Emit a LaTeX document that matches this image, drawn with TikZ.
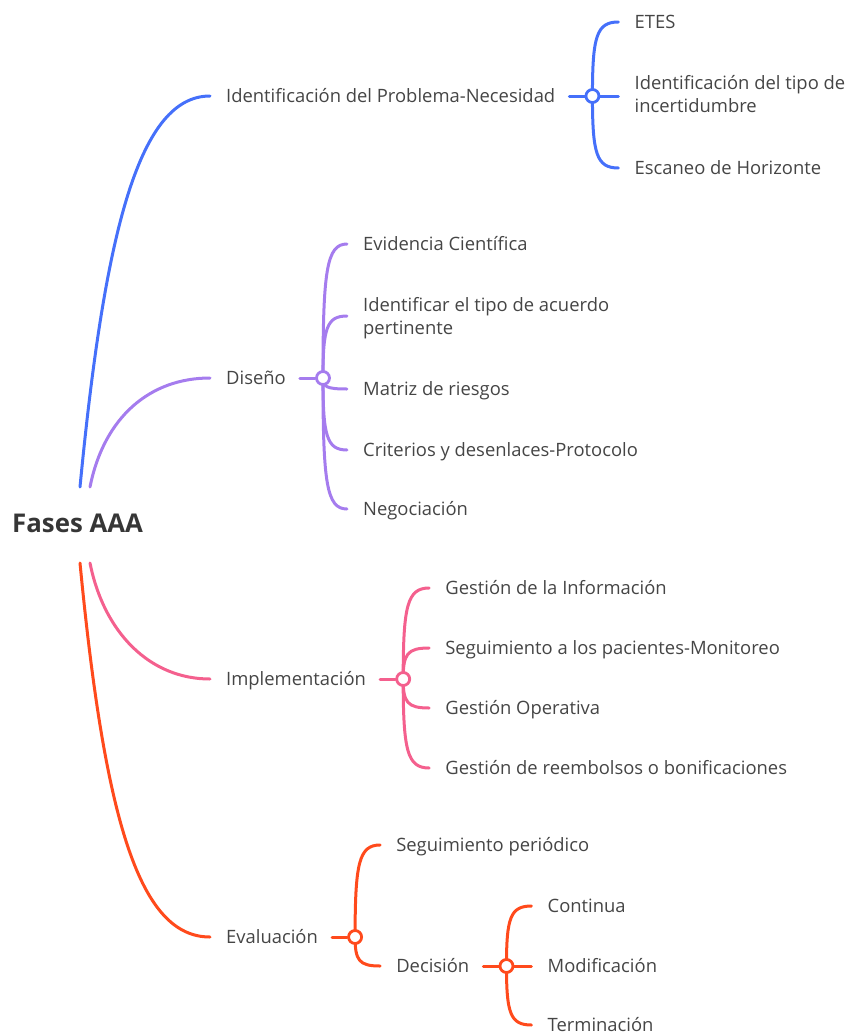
\documentclass[tikz,border=0pt]{standalone}
\usepackage{fontspec}
\setmainfont{Open Sans}
\usetikzlibrary{calc}
\definecolor{cblue}{HTML}{4570FA}
\definecolor{cpurple}{HTML}{A57CEE}
\definecolor{cpink}{HTML}{F4608E}
\definecolor{cred}{HTML}{FF4A1C}
\definecolor{txt}{HTML}{454545}
\definecolor{roottxt}{HTML}{363636}
\pgfdeclarelayer{bg}\pgfsetlayers{bg,main}
\newcommand\hubbranch[3]{\draw[br=#3] (#1.center) .. controls ($(#1.center)!0.8!(#1.center|-#2)$) and ($(#1.center|-#2)!0.15!(#2)$) .. (#2);}
\begin{document}
\begin{tikzpicture}[x=1pt,y=-1pt,
  lbl/.style={anchor=base west, inner sep=0pt, text=txt, font=\fontsize{18.4}{23.5}\selectfont, align=left},
  hub/.style={circle, draw=#1, fill=white, line width=2.8pt, minimum size=13pt, inner sep=0pt},
  br/.style={draw=#1, line width=3pt, line cap=round},
]
\useasboundingbox (0,0) rectangle (848,1033);
\node[anchor=base west, inner sep=0pt, text=roottxt, font=\bfseries\fontsize{25.8}{30}\selectfont] (root) at (12,532) {Fases AAA};
\coordinate (rb) at (80,487);
\coordinate (rp) at (90,487);
\coordinate (rk) at (90,563);
\coordinate (rr) at (80,563);

% level 1
\node[lbl] (p1) at (226,102.5) {Identificación del Problema-Necesidad};
\node[lbl] (p2) at (226,384.5) {Diseño};
\node[lbl] (p3) at (226,685.5) {Implementación};
\node[lbl] (p4) at (226,943.5) {Evaluación};
\coordinate (e1) at ($(p1.base west)+(-16,-6.5)$);
\coordinate (e2) at ($(p2.base west)+(-16,-6.5)$);
\coordinate (e3) at ($(p3.base west)+(-16,-6.5)$);
\coordinate (e4) at ($(p4.base west)+(-16,-6.5)$);

% hubs
\node[hub=cblue] (h1) at ($(p1.base east)+(37,-6.5)$) {};
\node[hub=cpurple] (h2) at ($(p2.base east)+(37,-6.5)$) {};
\node[hub=cpink] (h3) at ($(p3.base east)+(37,-6.5)$) {};
\node[hub=cred] (h4) at ($(p4.base east)+(37,-6.5)$) {};

% blue children
\node[lbl] (a1) at ($(h1)+(42,-67.5)$) {ETES};
\node[lbl] (a2) at ($(h1)+(42,16.5)$) {Identificación del tipo de\\incertidumbre};
\node[lbl] (a3) at ($(h1)+(42,78.5)$) {Escaneo de Horizonte};
% purple children
\node[lbl] (b1) at ($(h2)+(40,-127.5)$) {Evidencia Científica};
\node[lbl] (b2) at ($(h2)+(40,-43.5)$) {Identificar el tipo de acuerdo\\pertinente};
\node[lbl] (b3) at ($(h2)+(40,17.5)$) {Matriz de riesgos};
\node[lbl] (b4) at ($(h2)+(40,78.5)$) {Criterios y desenlaces-Protocolo};
\node[lbl] (b5) at ($(h2)+(40,137.5)$) {Negociación};
% pink children
\node[lbl] (c1) at ($(h3)+(42,-84.5)$) {Gestión de la Información};
\node[lbl] (c2) at ($(h3)+(42,-24.5)$) {Seguimiento a los pacientes-Monitoreo};
\node[lbl] (c3) at ($(h3)+(42,35.5)$) {Gestión Operativa};
\node[lbl] (c4) at ($(h3)+(42,95.5)$) {Gestión de reembolsos o bonificaciones};
% red children
\node[lbl] (d1) at ($(h4)+(41,-85.5)$) {Seguimiento periódico};
\node[lbl] (d2) at ($(h4)+(41,35.5)$) {Decisión};
\node[hub=cred] (h5) at ($(d2.base east)+(37,-6.5)$) {};
\node[lbl] (f1) at ($(h5)+(41,-53.5)$) {Continua};
\node[lbl] (f2) at ($(h5)+(41,6.5)$) {Modificación};
\node[lbl] (f3) at ($(h5)+(41,65.5)$) {Terminación};

\foreach \n in {a1,a3,b1,b3,b4,b5,c1,c2,c3,c4,d1,d2,f1,f2,f3}{
  \coordinate (t\n) at ($(\n.base west)+(-16,-6.5)$);
}
\coordinate (ta2) at ($(a2.base west)+(-16,-16.5)$);
\coordinate (tb2) at ($(b2.base west)+(-16,-18.5)$);

\begin{pgfonlayer}{bg}
\draw[br=cblue] (rb) .. controls +(25,-260) and +(-70,0) .. (e1);
\draw[br=cpurple] (rp) .. controls +(14,-70) and +(-60,0) .. (e2);
\draw[br=cpink] (rk) .. controls +(14,70) and +(-60,0) .. (e3);
\draw[br=cred] (rr) .. controls +(25,260) and +(-70,0) .. (e4);

\draw[br=cblue] ($(p1.base east)+(14,-6.5)$) -- (h1);
\draw[br=cpurple] ($(p2.base east)+(14,-6.5)$) -- (h2);
\draw[br=cpink] ($(p3.base east)+(14,-6.5)$) -- (h3);
\draw[br=cred] ($(p4.base east)+(14,-6.5)$) -- (h4);
\draw[br=cred] ($(d2.base east)+(14,-6.5)$) -- (h5);

\foreach \t in {ta1,ta2,ta3}{\hubbranch{h1}{\t}{cblue}}
\foreach \t in {tb1,tb2,tb3,tb4,tb5}{\hubbranch{h2}{\t}{cpurple}}
\foreach \t in {tc1,tc2,tc3,tc4}{\hubbranch{h3}{\t}{cpink}}
\foreach \t in {td1,td2}{\hubbranch{h4}{\t}{cred}}
\foreach \t in {tf1,tf2,tf3}{\hubbranch{h5}{\t}{cred}}
\end{pgfonlayer}
\end{tikzpicture}
\end{document}
